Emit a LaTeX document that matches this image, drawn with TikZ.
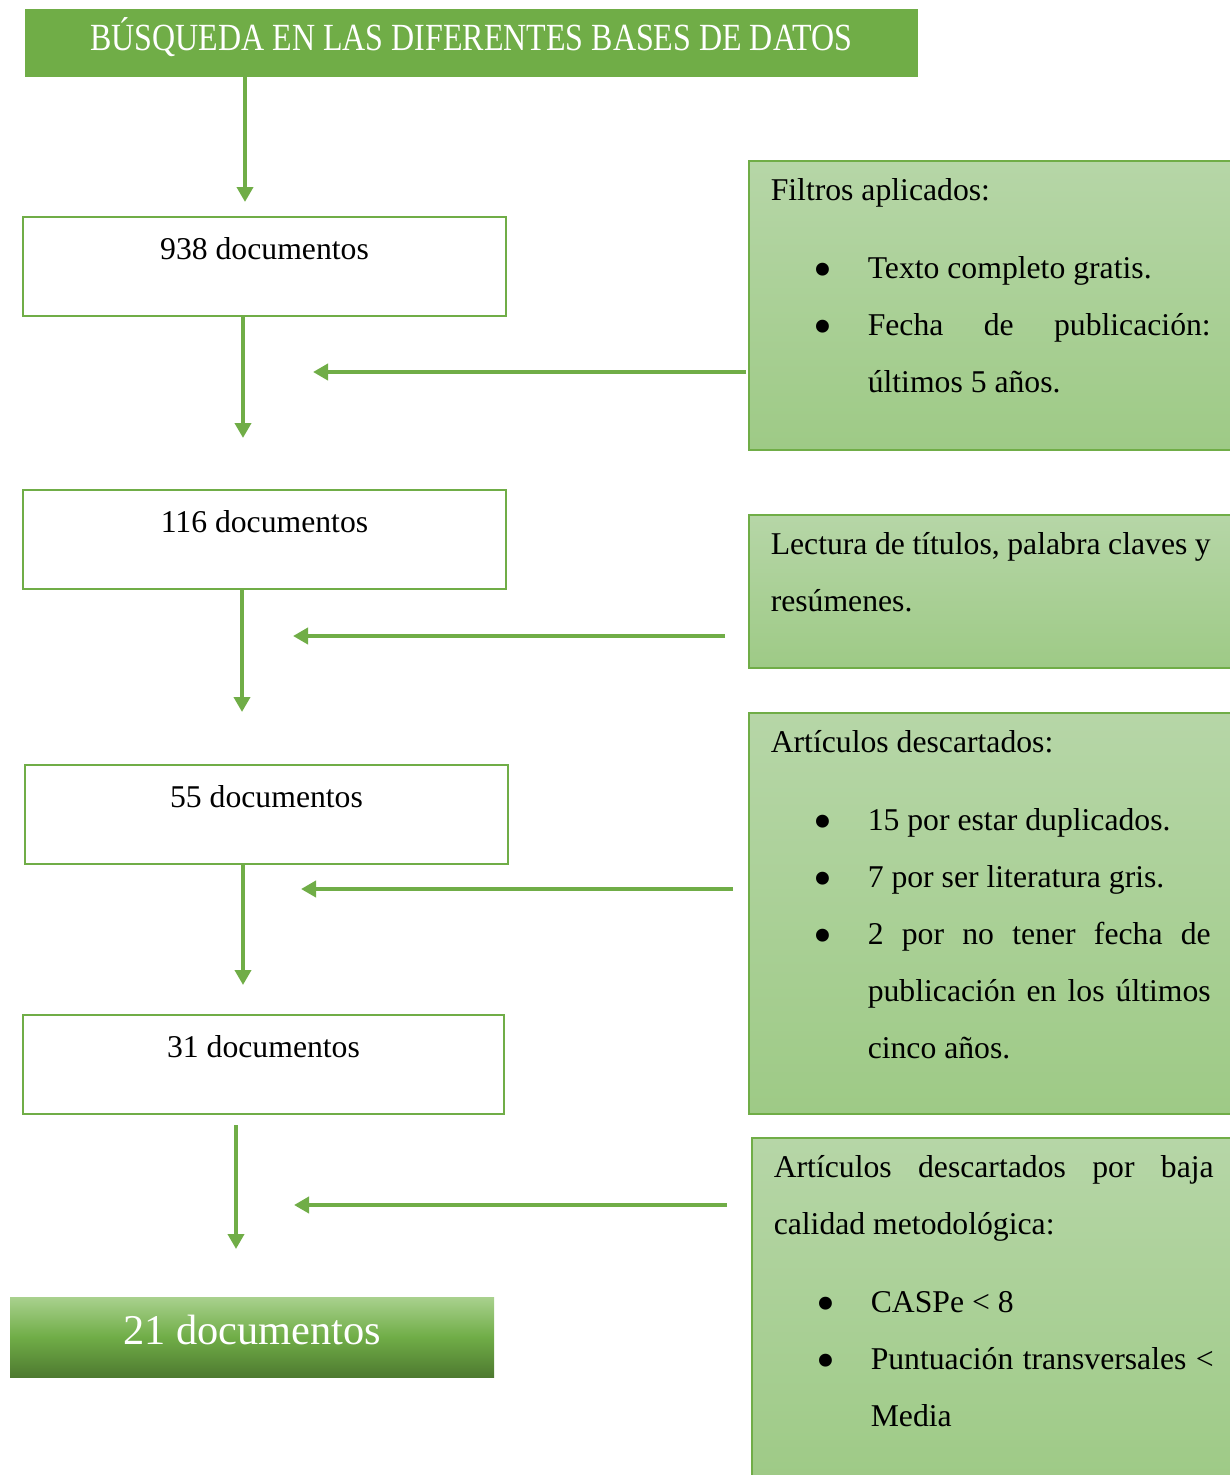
\documentclass[tikz,border=0pt]{standalone}
\usepackage{fontspec}
\setmainfont{Liberation Serif}
\usetikzlibrary{arrows.meta, positioning, calc}

\definecolor{flowgreen}{RGB}{112,173,71}
\definecolor{sidetop}{RGB}{182,214,167}
\definecolor{sidebottom}{RGB}{158,202,134}
\definecolor{finaltop}{RGB}{169,209,142}
\definecolor{finalbottom}{RGB}{78,122,48}

\newcommand{\sidefont}{\fontsize{31.7}{57}\selectfont}
\newcommand{\sidetext}[2]{\begin{minipage}[t][#1][t]{440pt}\rule{0pt}{22pt}#2\end{minipage}}
\newcommand{\bigdot}{\raisebox{-9pt}{\scalebox{1.7}{\textbullet}}}
\newcommand{\bitem}[1]{{\par\leftskip=97pt\noindent\llap{\bigdot\hspace{35pt}}#1\par}}

\begin{document}
\begin{tikzpicture}[
    x=1pt, y=-1pt,
    banner/.style={rectangle, fill=flowgreen, text=white, minimum width=893pt, minimum height=68pt, inner sep=0pt, font=\fontsize{32}{38}\selectfont},
    docbox/.style={rectangle, draw=flowgreen, line width=2pt, fill=white, anchor=north west, inner xsep=0pt, inner ysep=20pt, minimum width=483pt, text height=22pt, text depth=37pt, font=\sidefont},
    sidebox/.style={rectangle, draw=flowgreen, line width=1.5pt, top color=sidetop, bottom color=sidebottom, anchor=north west, inner xsep=22pt, inner ysep=18pt, font=\sidefont},
    finalbox/.style={rectangle, top color=finaltop, bottom color=finalbottom, middle color=flowgreen, text=white, minimum width=484pt, minimum height=80pt, inner sep=0pt, text depth=14pt, font=\fontsize{42.4}{50}\selectfont},
    flow/.style={draw=flowgreen, line width=4pt, -{Triangle[width=16pt,length=15pt]}}
]
\useasboundingbox (0,0) rectangle (1230,1475);

% Main column
\node[banner, text depth=17pt] (title) at (471.5,43) {\scalebox{1}[1.2]{BÚSQUEDA EN LAS DIFERENTES BASES DE DATOS}};
\node[docbox] (d1) at (22,216) {938 documentos};
\node[docbox] (d2) at (22,489) {116 documentos};
\node[docbox] (d3) at (24,764) {55 documentos};
\node[docbox, minimum width=481pt] (d4) at (22,1014) {31 documentos};
\node[finalbox] (final) at (252,1337) {21 documentos};

% Side notes
\node[sidebox] (f1) at (748,160) {\sidetext{253pt}{Filtros aplicados:\par
  \vspace{21pt}
  \bitem{Texto completo gratis.}
  \bitem{Fecha de publicación:\linebreak últimos 5 años.}}};
\node[sidebox] (f2) at (748,514) {\sidetext{117pt}{Lectura de títulos, palabra claves y\linebreak resúmenes.}};
\node[sidebox] (f3) at (748,712) {\sidetext{365pt}{Artículos descartados:\par
  \vspace{21pt}
  \bitem{15 por estar duplicados.}
  \bitem{7 por ser literatura gris.}
  \bitem{2 por no tener fecha de\linebreak publicación en los últimos\linebreak cinco años.}}};
\node[sidebox] (f4) at (751,1137) {\sidetext{309pt}{Artículos descartados por baja\linebreak calidad metodológica:\par
  \vspace{21pt}
  \bitem{CASPe < 8}
  \bitem{Puntuación transversales <\linebreak Media}}};

% Arrow ends
\coordinate (e0) at (245,202);
\coordinate (e1) at (243,438);
\coordinate (e2) at (242,712);
\coordinate (e3) at (243,985);
\coordinate (s4) at (236,1125);
\coordinate (e4) at (236,1249);
\coordinate (h1a) at (746,372);
\coordinate (h1b) at (313,372);
\coordinate (h2a) at (725,636);
\coordinate (h2b) at (293,636);
\coordinate (h3a) at (733,889);
\coordinate (h3b) at (301,889);
\coordinate (h4a) at (727,1205);
\coordinate (h4b) at (294,1205);

% Flow arrows
\draw[flow] (title.south -| e0) -- (e0);
\draw[flow] (d1.south -| e1) -- (e1);
\draw[flow] (d2.south -| e2) -- (e2);
\draw[flow] (d3.south -| e3) -- (e3);
\draw[flow] (s4) -- (e4);

% Filter arrows
\draw[flow] (h1a) -- (h1b);
\draw[flow] (h2a) -- (h2b);
\draw[flow] (h3a) -- (h3b);
\draw[flow] (h4a) -- (h4b);

\end{tikzpicture}
\end{document}
